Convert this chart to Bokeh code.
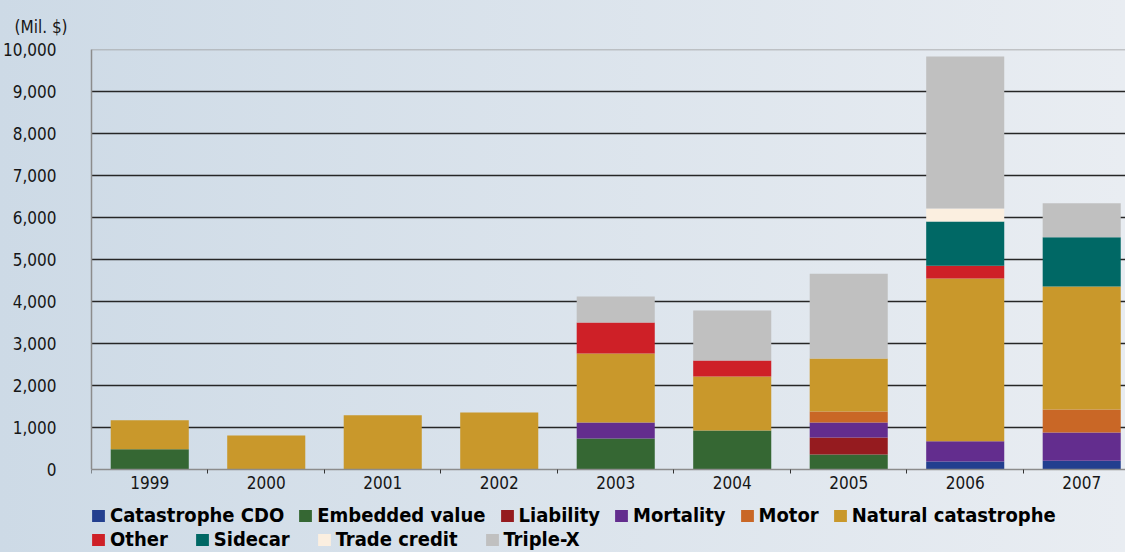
from bokeh.plotting import figure
from bokeh.models import (ColumnDataSource, Range1d, FixedTicker, NumeralTickFormatter,
                          Legend, LegendItem, Span)
from bokeh.embed import file_html
from bokeh.resources import INLINE

# ---------------- data ----------------
years = ["1999", "2000", "2001", "2002", "2003", "2004", "2005", "2006", "2007"]
catastrophe_cdo = [0, 0, 0, 0, 0, 0, 0, 190, 210]
embedded_value = [480, 0, 0, 0, 740, 930, 360, 0, 0]
liability = [0, 0, 0, 0, 0, 0, 400, 0, 0]
mortality = [0, 0, 0, 0, 380, 0, 360, 480, 670]
motor = [0, 0, 0, 0, 0, 0, 260, 0, 550]
natural_catastrophe = [690, 810, 1290, 1360, 1640, 1285, 1260, 3880, 2930]
other = [0, 0, 0, 0, 740, 380, 0, 300, 0]
sidecar = [0, 0, 0, 0, 0, 0, 0, 1055, 1170]
trade_credit = [0, 0, 0, 0, 0, 0, 0, 310, 0]
triple_x = [0, 0, 0, 0, 620, 1190, 2020, 3620, 810]

series_names = ["Catastrophe CDO", "Embedded value", "Liability", "Mortality", "Motor",
                "Natural catastrophe", "Other", "Sidecar", "Trade credit", "Triple-X"]
series_values = [catastrophe_cdo, embedded_value, liability, mortality, motor,
                 natural_catastrophe, other, sidecar, trade_credit, triple_x]
colors = ["#233f8f", "#356733", "#951b1f", "#632d8e", "#c96726",
          "#c9982b", "#ce2027", "#006865", "#fbefe0", "#c0c0c0"]
y_ticks = [0, 1000, 2000, 3000, 4000, 5000, 6000, 7000, 8000, 9000, 10000]

FONT = "'DejaVu Sans Condensed', Roboto"
TXT = "#161616"

# layout: value axis occupies 420px; the frame continues below zero to hold the legend
PLOT_PX = 420
BELOW_PX = 88
y_lo = -(BELOW_PX / PLOT_PX) * y_ticks[-1]

x_idx = list(range(len(years)))
data = {"x": x_idx}
keys = []
for i, vals in enumerate(series_values):
    k = "s%d" % i
    keys.append(k)
    data[k] = vals
source = ColumnDataSource(data)

p = figure(frame_width=1036, frame_height=PLOT_PX + BELOW_PX, output_backend="svg",
           toolbar_location=None,
           x_range=Range1d(-0.5, 8.393), y_range=Range1d(y_lo, y_ticks[-1]),
           min_border_left=89, min_border_right=0, min_border_top=49, min_border_bottom=0)
p.background_fill_color = None
p.border_fill_color = None
p.outline_line_color = None

renderers = p.vbar_stack(keys, x="x", width=0.67, color=colors, line_color=None, source=source)

# title
p.title.text = "(Mil. $)"
p.title.text_font = FONT
p.title.text_font_size = "17px"
p.title.text_font_style = "normal"
p.title.text_color = TXT
p.title.align = "left"
p.title.offset = -77
p.title.standoff = 26

# y axis
p.yaxis.ticker = FixedTicker(ticks=y_ticks)
p.yaxis.bounds = (y_ticks[0], y_ticks[-1])
p.yaxis.formatter = NumeralTickFormatter(format="0,0")
p.yaxis.major_tick_out = 0
p.yaxis.major_tick_in = 0
p.yaxis.minor_tick_out = 0
p.yaxis.minor_tick_in = 0
p.yaxis.major_label_standoff = 35
p.yaxis.axis_line_color = "#8c8c8c"
p.yaxis.axis_line_width = 1.5
p.yaxis.major_label_text_font = FONT
p.yaxis.major_label_text_font_size = "17px"
p.yaxis.major_label_text_color = TXT

# x axis (drawn at value 0)
p.xaxis.fixed_location = 0
p.xaxis.ticker = FixedTicker(ticks=x_idx, minor_ticks=[i + 0.5 for i in range(-1, len(years))])
p.xaxis.major_label_overrides = {i: y for i, y in zip(x_idx, years)}
p.xaxis.major_tick_out = 0
p.xaxis.major_tick_in = 0
p.xaxis.minor_tick_out = 4
p.xaxis.minor_tick_in = 0
p.xaxis.minor_tick_line_color = "#333333"
p.xaxis.axis_line_color = "#8c8c8c"
p.xaxis.axis_line_width = 1.5
p.xaxis.major_label_standoff = 2
p.xaxis.major_label_text_font = FONT
p.xaxis.major_label_text_font_size = "17px"
p.xaxis.major_label_text_color = TXT

# grid
p.xgrid.visible = False
p.ygrid.ticker = FixedTicker(ticks=y_ticks[1:-1])
p.ygrid.grid_line_color = "#262626"
p.ygrid.grid_line_width = 1.3
p.add_layout(Span(location=y_ticks[-1], dimension="width", line_color="#9a9a9a", line_width=1.5))

# legends (two rows, inside the lower strip of the frame)
def make_legend(idxs, spacing, loc):
    items = [LegendItem(label=series_names[i], renderers=[renderers[i]]) for i in idxs]
    lg = Legend(items=items, orientation="horizontal", location=loc,
                glyph_width=16, glyph_height=15, label_standoff=4, spacing=spacing,
                padding=0, margin=0, border_line_color=None, background_fill_color=None,
                border_line_alpha=0, background_fill_alpha=0,
                label_text_font=FONT, label_text_font_style="bold",
                label_text_font_size="20px", label_text_color="#000000",
                label_height=22)
    return lg

p.add_layout(make_legend([0, 1, 2, 3, 4, 5], 13, (-1, 30)), "center")
p.add_layout(make_legend([6, 7, 8, 9], 26, (-1, 6)), "center")

html = file_html(p, INLINE, title="Chart")
html = html.replace("</head>",
                    "<style>html{background:linear-gradient(to right,#cddae6,#e9edf2);}</style></head>", 1)
open("out.html", "w").write(html)
